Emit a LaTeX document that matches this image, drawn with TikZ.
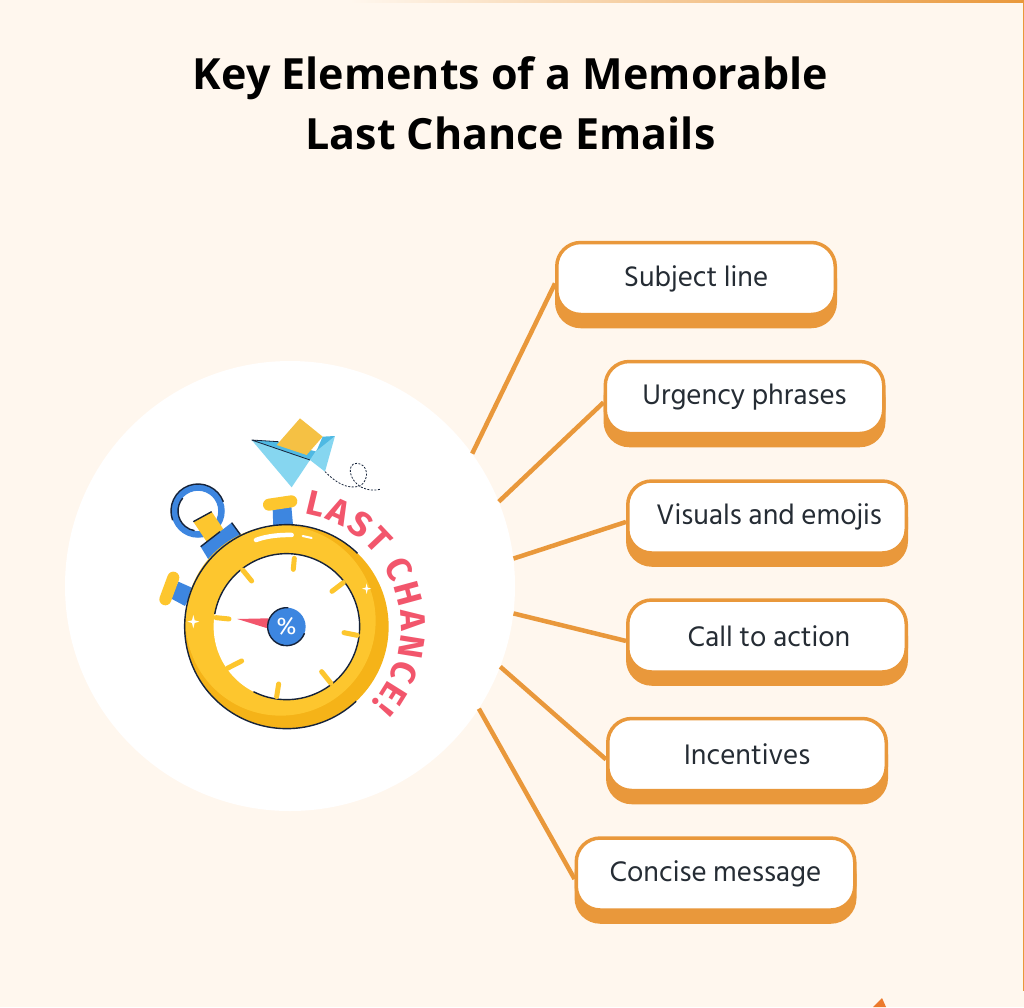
\documentclass[tikz,border=0pt]{standalone}
\usepackage{fontspec}
\usepackage{xcolor}
\setmainfont{Hind Siliguri}
\newfontfamily\titlefont{Open Sans}
\newfontfamily\lastfont{Fira Sans}
\usetikzlibrary{calc, shadows, decorations.text}
\definecolor{paperbg}{HTML}{FFF7EE}
\definecolor{barorange}{HTML}{E9983B}
\definecolor{labelink}{HTML}{252C34}
\definecolor{ringlight}{HTML}{FDC62E}
\definecolor{ringdark}{HTML}{F5B318}
\definecolor{watchblue}{HTML}{3D86E0}
\definecolor{watchink}{HTML}{16233A}
\definecolor{lastred}{HTML}{F2566C}
\definecolor{planelight}{HTML}{86D6F0}
\definecolor{planemid}{HTML}{4FB9E3}
\definecolor{envelope}{HTML}{F5C144}
\definecolor{cornerorange}{HTML}{EC7A2C}
\tikzset{
  itembox/.style={rectangle, rounded corners=24pt, fill=white, draw=barorange, line width=3.5pt,
    minimum width=278.5pt, minimum height=72pt, text=labelink, font=\fontsize{29}{34}\selectfont,
    copy shadow={shadow xshift=0pt, shadow yshift=-12pt, fill=barorange, draw=barorange}},
  spoke/.style={draw=barorange, line width=4.5pt},
  watchline/.style={draw=watchink, line width=1.4pt},
  ticktone/.style={draw=ringlight, line width=5pt, line cap=round}
}

\begin{document}
\begin{tikzpicture}[x=1pt, y=-1pt]
\useasboundingbox (0,0) rectangle (1024,1007);
\fill[paperbg] (0,0) rectangle (1024,1007);
\shade[left color=paperbg, right color=barorange] (350,0) rectangle (1024,2);
\fill[barorange] (1022.5,0) rectangle (1024,991);
\fill[cornerorange] (873,1007) -- (882,998) -- (886,1007) -- cycle;

\node[font=\titlefont\bfseries\fontsize{43}{60}\selectfont, align=center, text=black] (heading) at (510.5,103)
  {Key Elements of a Memorable\\Last Chance Emails};

\node[circle, fill=white, minimum size=450pt, inner sep=0pt] (hubdisc) at (290,586) {};

\node[itembox] (subject)  at (696,278.5) {Subject line};
\node[itembox] (urgency)  at (744.5,397.5) {Urgency phrases};
\node[itembox] (visuals)  at (767,517) {\hspace*{4pt}Visuals and emojis};
\node[itembox] (action)   at (767,636) {\hspace*{4pt}Call to action};
\node[itembox] (incent)   at (747,754.5) {Incentives};
\node[itembox] (concise)  at (715.5,874) {Concise message};

\path
(hubdisc.36)    edge[spoke] (subject.182.7)
(hubdisc.22)    edge[spoke] (urgency.182.7)
(hubdisc.7.6)   edge[spoke] (visuals.182.7)
(hubdisc.-7)    edge[spoke] (action.182.7)
(hubdisc.-21.6) edge[spoke] (incent.182.7)
(hubdisc.-33.5) edge[spoke] (concise.182.7);

% stopwatch, in crop units
\begin{scope}[shift={(130,400)}, x=.3333pt, y=-.3333pt]
\coordinate (dial) at (470,680);
% loop and crown
\draw[draw=watchblue, line width=6.5pt] (204,333) circle[radius=23.5pt];
\draw[watchline] (204,333) ++(200:27pt) arc[start angle=200, end angle=20, radius=27pt];
\draw[watchline] (204,333) ++(140:20pt) arc[start angle=140, end angle=260, radius=20pt];
\fill[ringlight] (190,365) -- (245,335) -- (285,395) -- (230,425) -- cycle;
\draw[watchline] (190,365) -- (245,335);
\fill[watchblue] (212,440) -- (305,368) -- (332,405) -- (235,478) -- cycle;
\draw[watchline] (212,440) -- (270,395) (305,368) -- (332,405) -- (300,430);
% side buttons
\fill[watchblue] (428,325) -- (484,318) -- (490,385) -- (430,385) -- cycle;
\draw[draw=ringlight, line width=12pt, line cap=round] (417,314) -- (484,304);
\fill[watchblue] (145,545) -- (190,565) -- (165,618) -- (122,595) -- cycle;
\draw[draw=ringlight, line width=12pt, line cap=round] (130,533) -- (106,598);
% case
\fill[ringdark] (dial) circle[radius=102pt];
\fill[ringlight] ($(dial)+(-18,-18)$) circle[radius=95pt];
\fill[white] (dial) circle[radius=73pt];
\draw[watchline] (dial) ++(46:102pt) arc[start angle=46, end angle=313, radius=102pt];
\draw[watchline] (dial) ++(170:73pt) arc[start angle=170, end angle=-117, radius=73pt];
\draw[white, line width=4.5pt, line cap=round] (378,420) .. controls (410,408) and (450,404) .. (485,405);
\draw[white, line width=2pt, line cap=round] (518,408) -- (545,414);
\fill[white] (190,645) -- (194,661) -- (208,665) -- (194,669) -- (190,685) -- (186,669) -- (172,665) -- (186,661) -- cycle;
\fill[white] (710,550) -- (713,563) -- (724,566) -- (713,569) -- (710,582) -- (707,569) -- (696,566) -- (707,563) -- cycle;
% ticks
\draw[ticktone] (493,475) -- (490,508);
\draw[ticktone] (338,510) -- (365,543);
\draw[ticktone] (258,653) -- (297,657);
\draw[ticktone] (606,574) -- (640,548);
\draw[ticktone] (642,698) -- (682,706);
\draw[ticktone] (575,815) -- (603,850);
\draw[ticktone] (446,852) -- (440,890);
\draw[ticktone] (335,783) -- (292,805);
% needle and hub
\fill[lastred] (322,657) -- (416,655) -- (416,686) -- cycle;
\node[circle, fill=watchblue, minimum size=38pt, inner sep=0pt] (hubcap) at (470,680) {};
\draw[watchline] (470,680) ++(85:19pt) arc[start angle=85, end angle=260, radius=19pt];
\draw[watchline] (470,680) ++(-20:19pt) arc[start angle=-20, end angle=-110, radius=19pt];
\node[text=white, font=\lastfont\fontsize{24}{24}\selectfont, inner sep=0pt] (pct) at (hubcap) {\%};
% red lettering
\path[decorate, decoration={text along path, text align={fit to path},
  text={|\lastfont\bfseries\fontsize{35}{35}\selectfont\color{lastred}|LAST CHANCE!}}]
  (dial) ++(81:114pt) arc[start angle=81, end angle=-42, radius=114pt];
% paper plane
\fill[planelight] (365,120) -- (540,180) -- (485,262) -- cycle;
\fill[planemid] (365,120) -- (445,125) -- (560,155) -- (540,180) -- cycle;
\fill[envelope] (510,55) -- (578,110) -- (530,165) -- (440,135) -- cycle;
\fill[planelight] (560,150) -- (615,108) -- (585,215) -- (540,180) -- cycle;
\fill[planemid] (578,110) -- (615,108) -- (560,152) -- cycle;
\draw[watchline, line width=.8pt] (365,120) -- (445,125) (365,120) -- (540,180);
\draw[watchink, line width=.8pt, dash pattern=on 2pt off 1.5pt] (585,215) .. controls (615,245) and (650,270) .. (690,258)
  .. controls (720,240) and (715,190) .. (680,190) .. controls (650,190) and (655,240) .. (695,262)
  .. controls (715,272) and (735,272) .. (750,268);
\end{scope}
\end{tikzpicture}
\end{document}
